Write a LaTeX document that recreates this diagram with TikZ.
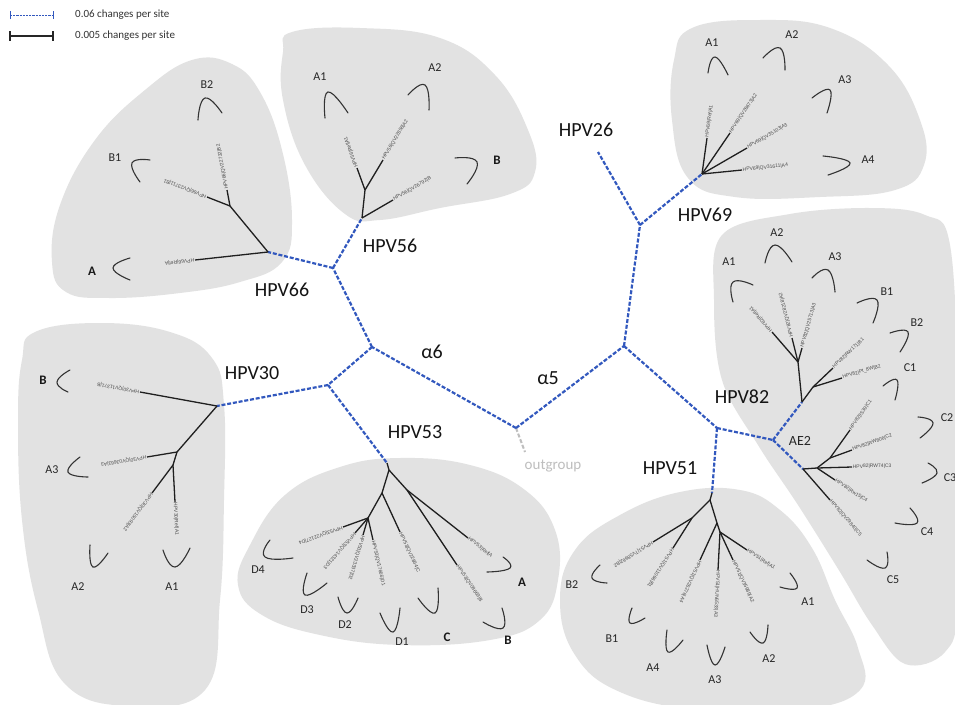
\documentclass[tikz,border=0pt]{standalone}
\usepackage{fontspec}
\setmainfont{Carlito}
\newfontfamily\leaffont{Liberation Sans}
\usetikzlibrary{calc}
\definecolor{blobgrey}{RGB}{226,226,226}
\definecolor{bbblue}{RGB}{50,88,190}
\definecolor{oggrey}{RGB}{190,190,190}
\newcommand\myleaf[4]{%
  \coordinate (#2) at #3;
  \draw[tree] (#1) -- (#2);
  \path let \p1=($(#2)-(#1)$), \n1={atan2(\y1,\x1)} in
    node[leaftext, rotate=\n1, anchor=west] (#2t) at (#2) {#4};
}
\newcommand\mybrk[3]{\draw[brk] plot[smooth, tension=0.9] coordinates {#1 #2 #3};}
\begin{document}
\begin{tikzpicture}[x=1pt,y=-1pt,
  blob/.style={fill=blobgrey, draw=none},
  bb/.style={draw=bbblue, line width=2.2pt, dash pattern=on 4pt off 1.8pt},
  tree/.style={draw=black!88, line width=1.3pt},
  brk/.style={draw=black!80, line width=1.1pt, line cap=round},
  leaftext/.style={font=\leaffont\fontsize{5}{6}\selectfont, text=black!70, inner sep=0.6pt},
  clab/.style={font=\fontsize{12}{14}\selectfont, text=black!85, inner sep=0pt},
  cbold/.style={font=\bfseries\fontsize{13}{15}\selectfont, text=black!90, inner sep=0pt},
  big/.style={font=\fontsize{20}{24}\selectfont, text=black!92, inner sep=0pt},
  legtext/.style={font=\fontsize{11}{13}\selectfont, text=black!80, anchor=west, inner sep=0pt}
]
\useasboundingbox (0,0) rectangle (955,704);
\fill[white] (0,0) rectangle (955,704);

% ---------- blobs ----------
\fill[blob] plot[smooth cycle, tension=0.7] coordinates {(192,60) (232,64) (260,92) (282,150) (292,220) (282,262) (240,282) (180,293) (110,298) (66,292) (52,262) (60,205) (95,140) (145,90)};
\fill[blob] plot[smooth cycle, tension=0.7] coordinates {(292,32) (360,28) (440,38) (495,75) (528,130) (535,172) (510,194) (440,208) (380,220) (345,214) (305,165) (283,100) (283,52)};
\fill[blob] plot[smooth cycle, tension=0.7] coordinates {(692,28) (760,20) (830,28) (888,65) (920,120) (924,165) (895,190) (820,197) (735,197) (688,178) (672,120) (674,60)};
\fill[blob] plot[smooth cycle, tension=0.6] coordinates {(722,235) (790,214) (870,208) (925,215) (950,245) (958,400) (958,600) (945,652) (905,664) (872,625) (840,572) (798,505) (758,445) (722,380) (714,300)};
\fill[blob] plot[smooth cycle, tension=0.7] coordinates {(35,332) (100,323) (170,332) (212,358) (224,405) (224,500) (220,600) (205,690) (130,706) (65,684) (38,610) (22,520) (18,420) (22,360)};
\fill[blob] plot[smooth cycle, tension=0.7] coordinates {(250,545) (285,495) (340,467) (400,458) (470,465) (525,490) (555,530) (558,580) (540,620) (490,640) (400,645) (320,635) (262,615) (238,585)};
\fill[blob] plot[smooth cycle, tension=0.7] coordinates {(560,600) (575,550) (620,515) (680,492) (740,490) (780,510) (812,548) (835,600) (858,648) (860,690) (800,710) (700,710) (620,692) (575,655)};

% ---------- backbone ----------
\coordinate (og) at (516,428);
\coordinate (ogt) at (525,452);
\coordinate (a6) at (372,347);
\coordinate (j6656) at (333,268);
\coordinate (r56) at (362,218);
\coordinate (r66) at (268,252);
\coordinate (j3053) at (328,385);
\coordinate (r30) at (217,406);
\coordinate (r53) at (387,463);
\coordinate (a5) at (624,346);
\coordinate (j2669) at (640,225);
\coordinate (t26) at (598,152);
\coordinate (r69) at (702,174);
\coordinate (j8251) at (717,428);
\coordinate (r51) at (712,493);
\coordinate (ae2) at (773,440);
\coordinate (r82a) at (802,402);
\coordinate (r82c) at (803,469);

\draw[draw=oggrey, line width=2pt, dash pattern=on 4pt off 2pt] (og) -- (ogt);
\draw[bb] (og) -- (a6);
\draw[bb] (a6) -- (j6656);
\draw[bb] (j6656) -- (r66);
\draw[bb] (j6656) -- (r56);
\draw[bb] (a6) -- (j3053);
\draw[bb] (j3053) -- (r30);
\draw[bb] (j3053) -- (r53);
\draw[bb] (og) -- (a5);
\draw[bb] (a5) -- (j2669);
\draw[bb] (j2669) -- (t26);
\draw[bb] (j2669) -- (r69);
\draw[bb] (a5) -- (j8251);
\draw[bb] (j8251) -- (r51);
\draw[bb] (j8251) -- (ae2);
\draw[bb] (ae2) -- (r82a);
\draw[bb] (ae2) -- (r82c);

% ---------- HPV66 ----------
\coordinate (n66) at (230,206);
\draw[tree] (r66) -- (n66);
\myleaf{r66}{l66A}{(195,260)}{HPV66|Ref|A}
\myleaf{n66}{l66B1}{(207,197)}{HPV66|QV23711|B1}
\myleaf{n66}{l66B2}{(227,190)}{HPV66|QV22732|B2}
\mybrk{(130,258)}{(113,268)}{(130,280)}
\mybrk{(150,160)}{(132,163)}{(140,182)}
\mybrk{(198,120)}{(205,98)}{(222,113)}
\node[cbold] (t66A) at (92,271) {A};
\node[clab] (t66B1) at (115,158) {B1};
\node[clab] (t66B2) at (207,85) {B2};

% ---------- HPV56 ----------
\coordinate (n56) at (365,190);
\draw[tree] (r56) -- (n56);
\myleaf{r56}{l56B}{(393,200)}{HPV56|QV26792|B}
\myleaf{n56}{l56A1}{(357,168)}{HPV56|Ref|A1}
\myleaf{n56}{l56A2}{(383,160)}{HPV56|QV22858|A2}
\mybrk{(325,118)}{(328,92)}{(348,113)}
\mybrk{(408,95)}{(425,85)}{(429,110)}
\mybrk{(455,158)}{(477,162)}{(467,184)}
\node[clab] (t56A1) at (320,77) {A1};
\node[clab] (t56A2) at (435,68) {A2};
\node[cbold] (t56B) at (497,160) {B};

% ---------- HPV69 ----------
\myleaf{r69}{l69A4}{(742,170)}{HPV69|QV31611|A4}
\myleaf{r69}{l69A3}{(747,148)}{HPV69|QV35103|A3}
\myleaf{r69}{l69A2}{(730,133)}{HPV69|QV26673|A2}
\myleaf{r69}{l69A1}{(707,138)}{HPV69|Ref|A1}
\mybrk{(823,156)}{(850,163)}{(828,175)}
\mybrk{(812,98)}{(830,90)}{(827,113)}
\mybrk{(763,58)}{(780,48)}{(785,70)}
\mybrk{(708,73)}{(715,57)}{(728,75)}
\node[clab] (t69A4) at (868,160) {A4};
\node[clab] (t69A3) at (845,80) {A3};
\node[clab] (t69A2) at (792,35) {A2};
\node[clab] (t69A1) at (712,43) {A1};

% ---------- HPV82 A/B ----------
\coordinate (n82i) at (798,362);
\coordinate (n82b) at (813,387);
\draw[tree] (r82a) -- (n82i);
\draw[tree] (r82a) -- (n82b);
\myleaf{n82i}{l82A1}{(772,332)}{HPV82|Ref|A1}
\myleaf{n82i}{l82A2}{(792,338)}{HPV82|QV28218|A2}
\myleaf{n82i}{l82A3}{(802,348)}{HPV82|QV25713|A3}
\myleaf{n82b}{l82B1}{(833,368)}{HPV82|RW171|B1}
\myleaf{n82b}{l82B2}{(842,378)}{HPV82|Pt\_8W|B2}
\mybrk{(753,285)}{(733,282)}{(733,302)}
\mybrk{(765,263)}{(775,245)}{(792,262)}
\mybrk{(812,278)}{(828,270)}{(835,292)}
\mybrk{(857,303)}{(877,300)}{(873,323)}
\mybrk{(890,333)}{(908,332)}{(900,352)}
\mybrk{(883,386)}{(897,380)}{(895,400)}
\node[clab] (t82A1) at (729,262) {A1};
\node[clab] (t82A2) at (777,233) {A2};
\node[clab] (t82A3) at (835,257) {A3};
\node[clab] (t82B1) at (887,292) {B1};
\node[clab] (t82B2) at (917,323) {B2};
\node[clab] (t82C1) at (910,368) {C1};

% ---------- HPV82 C ----------
\coordinate (c1) at (817,468);
\coordinate (c2) at (830,458);
\draw[tree] (r82c) -- (c1);
\draw[tree] (c1) -- (c2);
\myleaf{c2}{l82C1}{(850,430)}{HPV82|IS39|C1}
\myleaf{c2}{l82C2}{(852,450)}{HPV82|RW806|C2}
\myleaf{c1}{l82C3}{(852,467)}{HPV82|RW74|C3}
\myleaf{c1}{l82C4}{(835,480)}{HPV82|Rw15|C4}
\myleaf{r82c}{l82C5}{(830,500)}{HPV82|QV29840|C5}
\mybrk{(918,417)}{(933,423)}{(920,438)}
\mybrk{(928,463)}{(937,473)}{(922,483)}
\mybrk{(910,508)}{(917,523)}{(895,523)}
\mybrk{(867,560)}{(885,568)}{(887,552)}
\node[clab] (t82C2) at (947,418) {C2};
\node[clab] (t82C3) at (950,478) {C3};
\node[clab] (t82C4) at (927,532) {C4};
\node[clab] (t82C5) at (893,580) {C5};

% ---------- HPV51 ----------
\coordinate (n51) at (710,500);
\coordinate (n51B) at (692,518);
\coordinate (n51A) at (717,523);
\coordinate (n51A2) at (720,532);
\draw[tree] (r51) -- (n51);
\draw[tree] (n51) -- (n51B);
\draw[tree] (n51) -- (n51A);
\draw[tree] (n51A) -- (n51A2);
\myleaf{n51B}{l51B2}{(653,542)}{HPV51|TV58662|B2}
\myleaf{n51B}{l51B1}{(673,548)}{HPV51|QV11066|B1}
\myleaf{n51A}{l51A4}{(700,560)}{HPV51|QV26276|A4}
\myleaf{n51A2}{l51A3}{(718,570)}{HPV51|HUN6533|A3}
\myleaf{n51A2}{l51A2}{(733,560)}{HPV51|QV35989|A2}
\myleaf{n51A2}{l51A1}{(747,550)}{HPV51|Ref|A1}
\mybrk{(600,565)}{(592,578)}{(607,583)}
\mybrk{(632,608)}{(630,623)}{(645,618)}
\mybrk{(667,630)}{(668,652)}{(683,640)}
\mybrk{(707,645)}{(715,665)}{(725,647)}
\mybrk{(750,632)}{(763,643)}{(768,625)}
\mybrk{(780,587)}{(797,588)}{(790,573)}
\node[clab] (t51B2) at (572,585) {B2};
\node[clab] (t51B1) at (612,639) {B1};
\node[clab] (t51A4) at (653,668) {A4};
\node[clab] (t51A3) at (715,680) {A3};
\node[clab] (t51A2) at (769,659) {A2};
\node[clab] (t51A1) at (808,602) {A1};

% ---------- HPV53 ----------
\coordinate (n53) at (389,470);
\coordinate (n53R) at (407,490);
\coordinate (n53L) at (382,493);
\coordinate (n53D) at (368,518);
\draw[tree] (r53) -- (n53);
\draw[tree] (n53) -- (n53R);
\draw[tree] (n53) -- (n53L);
\draw[tree] (n53L) -- (n53D);
\myleaf{n53R}{l53A}{(468,538)}{HPV53|Ref|A}
\myleaf{n53R}{l53B}{(457,565)}{HPV53|QV08669|B}
\myleaf{n53L}{l53C}{(400,532)}{HPV53|QV22864|C}
\myleaf{n53D}{l53D4}{(343,527)}{HPV53|QV22127|D4}
\myleaf{n53D}{l53D3}{(355,533)}{HPV53|QV14321|D3}
\myleaf{n53D}{l53D2}{(363,535)}{HPV53|QV23337|D2}
\myleaf{n53D}{l53D1}{(373,540)}{HPV53|QV17666|D1}
\mybrk{(503,557)}{(510,568)}{(487,572)}
\mybrk{(483,622)}{(503,628)}{(502,608)}
\mybrk{(418,598)}{(435,613)}{(438,588)}
\mybrk{(270,540)}{(265,557)}{(293,558)}
\mybrk{(307,573)}{(305,595)}{(327,583)}
\mybrk{(338,597)}{(347,613)}{(358,598)}
\mybrk{(380,613)}{(393,632)}{(400,608)}
\node[cbold] (t53A) at (522,582) {A};
\node[cbold] (t53B) at (508,640) {B};
\node[cbold] (t53C) at (447,637) {C};
\node[clab] (t53D4) at (258,570) {D4};
\node[clab] (t53D3) at (307,610) {D3};
\node[clab] (t53D2) at (345,625) {D2};
\node[clab] (t53D1) at (402,642) {D1};

% ---------- HPV30 ----------
\coordinate (n30) at (177,452);
\coordinate (n30b) at (173,465);
\draw[tree] (r30) -- (n30);
\draw[tree] (n30) -- (n30b);
\myleaf{r30}{l30B}{(140,392)}{HPV30|QV11371|B}
\myleaf{n30}{l30A3}{(147,457)}{HPV30|QV03663|A3}
\myleaf{n30b}{l30A2}{(152,493)}{HPV30|QV15093|A2}
\myleaf{n30b}{l30A1}{(175,502)}{HPV30|Ref|A1}
\mybrk{(70,370)}{(57,382)}{(68,392)}
\mybrk{(80,457)}{(68,472)}{(88,477)}
\mybrk{(90,545)}{(93,567)}{(108,553)}
\mybrk{(163,550)}{(175,567)}{(190,548)}
\node[cbold] (t30B) at (43,380) {B};
\node[clab] (t30A3) at (52,470) {A3};
\node[clab] (t30A2) at (78,587) {A2};
\node[clab] (t30A1) at (172,587) {A1};

% ---------- main labels ----------
\node[big] (lHPV66) at (282,290) {HPV66};
\node[big] (lHPV56) at (390,246) {HPV56};
\node[big] (lHPV30) at (252,373) {HPV30};
\node[big] (lHPV53) at (415,432) {HPV53};
\node[big] (la6) at (432,352) {α6};
\node[big] (la5) at (548,378) {α5};
\node[big] (lHPV26) at (586,130) {HPV26};
\node[big] (lHPV69) at (705,215) {HPV69};
\node[big] (lHPV82) at (742,397) {HPV82};
\node[big] (lHPV51) at (670,468) {HPV51};
\node[font=\fontsize{14}{16}\selectfont, text=black!85, inner sep=0pt] (lAE2) at (800,441) {AE2};
\node[font=\fontsize{15}{17}\selectfont, text=oggrey, inner sep=0pt] (lout) at (553,466) {outgroup};

% ---------- legend ----------
\coordinate (lg1a) at (10,15);
\coordinate (lg1b) at (53,15);
\coordinate (lg2a) at (10,36);
\coordinate (lg2b) at (53,36);
\draw[draw=bbblue, line width=1pt, dash pattern=on 2.2pt off 1pt] (lg1a) -- (lg1b);
\draw[draw=bbblue, line width=1pt] ($(lg1a)+(0,-4)$) -- ($(lg1a)+(0,4)$);
\draw[draw=bbblue, line width=1pt] ($(lg1b)+(0,-4)$) -- ($(lg1b)+(0,4)$);
\draw[draw=black!85, line width=1.3pt] (lg2a) -- (lg2b);
\draw[draw=black!85, line width=1.3pt] ($(lg2a)+(0,-5)$) -- ($(lg2a)+(0,5)$);
\draw[draw=black!85, line width=1.3pt] ($(lg2b)+(0,-5)$) -- ($(lg2b)+(0,5)$);
\node[legtext] (lgt1) at (75,15) {0.06 changes per site};
\node[legtext] (lgt2) at (75,36) {0.005 changes per site};
\end{tikzpicture}
\end{document}
